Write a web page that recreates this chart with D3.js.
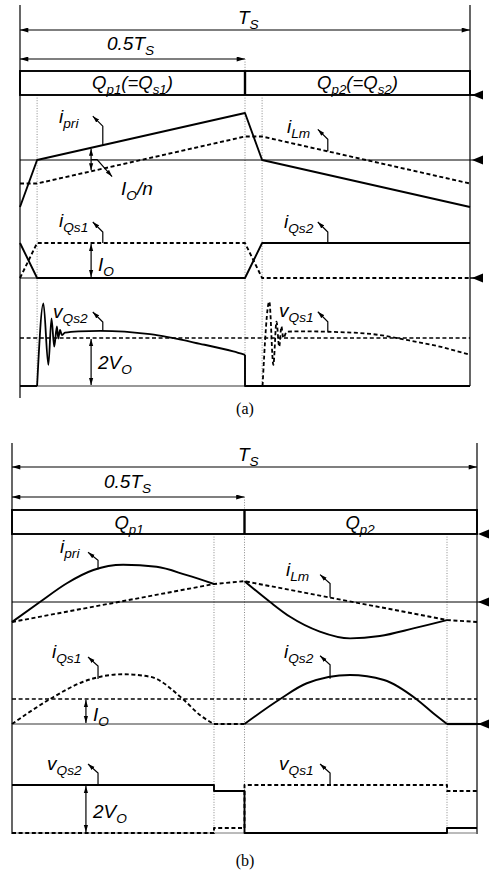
<!DOCTYPE html>
<html>
<head>
<meta charset="utf-8">
<script src="https://cdn.jsdelivr.net/npm/d3@7"></script>
<style>
  body { margin: 0; background: #fff; }
  svg { display: block; }
</style>
</head>
<body>
<script>
// Time is normalised to one switching period Ts (0 .. 1).

// ---------- (a) ----------
const aGuides = [0.038, 0.5, 0.538];                 // dotted guide instants
const aSwitches = [["Q", "p1", "(=Q", "s1", ")"], ["Q", "p2", "(=Q", "s2", ")"]];
const aIpri = [[0, -1], [0.038, 0], [0.5, 1], [0.538, 0], [1, -1]];
const aILm  = [[0, -0.5], [0.038, -0.5], [0.5, 0.5], [0.538, 0.5], [1, -0.5]];
const aIQs1 = [[0, 0], [0.038, 1], [0.5, 1], [0.538, 0], [1, 0]];
const aIQs2 = [[0, 1], [0.038, 0], [0.5, 0], [0.538, 1], [1, 1]];
const aVQs2Ring = [[0.038, 0], [0.052, 1.72], [0.063, 0.44], [0.070, 1.41], [0.076, 0.82],
  [0.082, 1.24], [0.085, 0.99], [0.089, 1.17], [0.093, 1.06], [0.100, 1.11], [0.130, 1.14],
  [0.178, 1.15], [0.289, 1.08], [0.400, 0.88], [0.474, 0.72], [0.5, 0.65]];
const aVQs1Ring = [[0.539, 0], [0.554, 1.76], [0.563, 0.44], [0.570, 1.34], [0.576, 0.82],
  [0.581, 1.24], [0.585, 1.00], [0.593, 1.13], [0.630, 1.14], [0.685, 1.13], [0.784, 1.08],
  [0.859, 0.96], [0.933, 0.82], [1, 0.65]];

// ---------- (b) ----------
const bGuides = [0.4344, 0.5, 0.9355];
const bSwitches = [["Q", "p1"], ["Q", "p2"]];
const bIpri1 = [[0, -0.5], [0.060, 0], [0.118, 0.47], [0.175, 0.80], [0.239, 0.93],
  [0.311, 0.88], [0.376, 0.67], [0.4344, 0.45]];
const bIpri2 = [[0.5, 0.52], [0.555, 0], [0.598, -0.37], [0.662, -0.74], [0.727, -0.91],
  [0.791, -0.85], [0.863, -0.66], [0.9355, -0.45]];
const bILm  = [[0, -0.5], [0.4344, 0.45], [0.5, 0.52], [0.9355, -0.45], [1, -0.5]];
const bIQs1 = [[0, 0], [0.082, 1.0], [0.153, 1.69], [0.239, 1.99], [0.297, 1.89],
  [0.368, 0.99], [0.404, 0.36], [0.4344, 0]];
const bIQs1Idle = [[0.4344, 0], [0.5, 0]];
const bIQs2 = [[0.5, 0], [0.576, 0.99], [0.634, 1.63], [0.727, 1.96], [0.800, 1.76],
  [0.870, 0.99], [0.906, 0.43], [0.9355, 0]];
const bIQs2Idle = [[0.9355, 0], [1, 0]];
const bVQs2 = [[0, 1], [0.4344, 1], [0.4344, 0.875], [0.5, 0.875], [0.5, 0], [0.9355, 0],
  [0.9355, 0.104], [1, 0.104]];
const bVQs1 = [[0, 0], [0.4344, 0], [0.4344, 0.104], [0.5, 0.104], [0.5, 1], [0.9355, 1],
  [0.9355, 0.875], [1, 0.875]];

// ---------- drawing ----------
const W = 489, H = 875;
const FONT = "'Liberation Sans', Arial, Helvetica, sans-serif";
const SERIF = "'Liberation Serif', 'Times New Roman', serif";
const svg = d3.select("body").append("svg").attr("width", W).attr("height", H);
const defs = svg.append("defs");

function marker(id, w, h) {
  defs.append("marker").attr("id", id)
    .attr("viewBox", "0 0 10 6").attr("refX", 10).attr("refY", 3)
    .attr("markerWidth", w).attr("markerHeight", h)
    .attr("markerUnits", "userSpaceOnUse").attr("orient", "auto-start-reverse")
    .append("path").attr("d", "M0,0L10,3L0,6Z").attr("fill", "#000");
}
marker("headLong", 9, 5);
marker("headShort", 7, 5);
marker("headCall", 7, 5);

function valueAt(series, t) {
  for (let i = 1; i < series.length; i++) {
    const [t0, v0] = series[i - 1], [t1, v1] = series[i];
    if (t >= t0 && t <= t1 && t1 > t0) return v0 + (v1 - v0) * (t - t0) / (t1 - t0);
  }
  return series[series.length - 1][1];
}

function seg(g, x1, y1, x2, y2, w = 1, color = "#000", dash = null) {
  const l = g.append("line").attr("x1", x1).attr("y1", y1).attr("x2", x2).attr("y2", y2)
    .attr("stroke", color).attr("stroke-width", w);
  if (dash) l.attr("stroke-dasharray", dash);
  return l;
}

function wave(g, data, x, y, opt = {}) {
  const gen = d3.line().x(d => x(d[0])).y(d => y(d[1]))
    .curve(opt.smooth ? d3.curveMonotoneX : d3.curveLinear);
  const p = g.append("path").datum(data).attr("d", gen).attr("fill", "none")
    .attr("stroke", "#000").attr("stroke-width", opt.width || 1.9)
    .attr("stroke-linejoin", "round");
  if (opt.dash) p.attr("stroke-dasharray", "4,2.6");
  return p;
}

function label(g, x, y, parts, anchor = "start", size = 19) {
  const t = g.append("text").attr("x", x).attr("y", y)
    .attr("font-family", FONT).attr("font-style", "italic")
    .attr("font-size", size).attr("text-anchor", anchor);
  let inSub = false;
  parts.forEach((s, i) => {
    const isSub = i % 2 === 1;
    const ts = t.append("tspan").text(s);
    if (isSub) { ts.attr("font-size", size * 0.72); if (!inSub) ts.attr("dy", 5); }
    else if (inSub) ts.attr("dy", -5);
    inSub = isSub;
  });
  return t;
}

function callout(g, x, yFrom, stub, dx = 10, dy = 10) {
  g.append("path")
    .attr("d", `M${x},${yFrom}V${yFrom - stub}L${x - dx},${yFrom - stub - dy}`)
    .attr("fill", "none").attr("stroke", "#000").attr("stroke-width", 1.2)
    .attr("marker-end", "url(#headCall)");
}

function dblArrowV(g, x, y1, y2) {
  seg(g, x, y1, x, y2, 1.2).attr("marker-start", "url(#headShort)").attr("marker-end", "url(#headShort)");
}

function dblArrowH(g, x1, x2, y) {
  seg(g, x1, y, x2, y, 1.2).attr("marker-start", "url(#headLong)").attr("marker-end", "url(#headLong)");
}

function sideMark(g, xTip, y) {
  g.append("path").attr("d", `M${xTip},${y}L${xTip + 11},${y - 4.5}L${xTip + 11},${y + 4.5}Z`).attr("fill", "#000");
}

function guide(g, x, y1, y2) {
  seg(g, x, y1, x, y2, 1, "#8a8a8a", "1,1.6");
}

// ================= (a) =================
(function () {
  const g = svg.append("g");
  const x0 = 20, x1 = 470;
  const x = d3.scaleLinear().domain([0, 1]).range([x0, x1]);
  const yI = d3.scaleLinear().domain([0, 1]).range([160, 113]);
  const yQ = d3.scaleLinear().domain([0, 1]).range([278, 243]);
  const yV = d3.scaleLinear().domain([0, 1]).range([386, 338]);
  const boxT = 71, boxB = 95;

  // frame
  seg(g, x0, 5, x0, 398, 1.2);
  seg(g, x1, 5, x1, 386, 1.2);
  dblArrowH(g, x0, x1, 30);
  dblArrowH(g, x0, x(0.5), 59);
  label(g, 238, 24, ["T", "S"]);
  label(g, 107, 50, ["0.5T", "S"]);

  // guides
  guide(g, x(0.5), 59, boxT);
  aGuides.forEach(t => guide(g, x(t), boxB, 386));

  // switch box
  g.append("rect").attr("x", x0).attr("y", boxT).attr("width", x1 - x0).attr("height", boxB - boxT)
    .attr("fill", "none").attr("stroke", "#000").attr("stroke-width", 1.9);
  seg(g, x(0.5), boxT, x(0.5), boxB, 2.4);
  label(g, x(0.25), 89, aSwitches[0], "middle", 18.5);
  label(g, x(0.75), 89, aSwitches[1], "middle", 18.5);
  seg(g, x1, boxB, x1 + 6, boxB, 1.9);
  sideMark(g, x1 + 2, boxB);

  // currents
  seg(g, x0, yI(0), x1 + 6, yI(0), 1);
  sideMark(g, x1 + 2, yI(0));
  wave(g, aILm, x, yI, { dash: true });
  wave(g, aIpri, x, yI);
  const tA = 0.158;
  dblArrowV(g, x(tA), yI(valueAt(aIpri, tA)) + 1, yI(valueAt(aILm, tA)) - 1);
  const ym = (yI(valueAt(aIpri, tA)) + yI(valueAt(aILm, tA))) / 2;
  g.append("path").attr("d", `M${x(tA)},${ym}H${x(tA) + 6}L${x(tA) + 21},${ym + 17}`)
    .attr("fill", "none").attr("stroke", "#000").attr("stroke-width", 1.2)
    .attr("marker-end", "url(#headCall)");
  label(g, 121, 195, ["I", "O", "/n"]);
  const tC1 = 0.184, tC2 = 0.684;
  callout(g, x(tC1), yI(valueAt(aIpri, tC1)), 19);
  label(g, 59, 123, ["i", "pri"]);
  callout(g, x(tC2), yI(valueAt(aILm, tC2)), 12);
  label(g, 287, 133, ["i", "Lm"]);

  // switch currents
  seg(g, x0, yQ(0), x(0.5), yQ(0), 1);
  wave(g, aIQs1, x, yQ, { dash: true });
  wave(g, aIQs2, x, yQ);
  seg(g, x1, yQ(0), x1 + 6, yQ(0), 1.5);
  sideMark(g, x1 + 2, yQ(0));
  dblArrowV(g, x(tA), yQ(1) + 1, yQ(0) - 1);
  label(g, 98, 271, ["I", "O"]);
  callout(g, x(tC1), yQ(1), 11);
  label(g, 59, 227, ["i", "Qs1"]);
  callout(g, x(tC2), yQ(1), 11);
  label(g, 284, 228, ["i", "Qs2"]);

  // switch voltages
  seg(g, x0, yV(0), x1, yV(0), 1.2, "#333");
  seg(g, x0, yV(1), x1, yV(1), 1.7, "#000", "4,2.6");
  wave(g, [[0, 0], [0.038, 0]], x, yV);
  wave(g, aVQs2Ring, x, yV, { smooth: true, width: 1.8 });
  wave(g, [[0.5, 0.65], [0.5, 0], [1, 0]], x, yV);
  wave(g, aVQs1Ring, x, yV, { smooth: true, dash: true, width: 1.8 });
  dblArrowV(g, x(tA), yV(1) + 1, yV(0) - 1);
  label(g, 98, 369, ["2V", "O"]);
  callout(g, x(tC1), yV(valueAt(aVQs2Ring, tC1)) , 9);
  label(g, 53, 318, ["v", "Qs2"]);
  callout(g, x(tC2), yV(valueAt(aVQs1Ring, tC2)), 10);
  label(g, 279, 317, ["v", "Qs1"]);

  g.append("text").attr("x", 245).attr("y", 414).attr("text-anchor", "middle")
    .attr("font-family", SERIF).attr("font-size", 16).text("(a)");
})();

// ================= (b) =================
(function () {
  const g = svg.append("g");
  const x0 = 12, x1 = 477;
  const x = d3.scaleLinear().domain([0, 1]).range([x0, x1]);
  const yI = d3.scaleLinear().domain([0, 1]).range([602, 562]);
  const yQ = d3.scaleLinear().domain([0, 1]).range([724, 699]);
  const yV = d3.scaleLinear().domain([0, 1]).range([833, 785]);
  const boxT = 510, boxB = 534;

  seg(g, x0, 443, x0, 834, 1.2);
  seg(g, x1, 443, x1, 834, 1.2);
  dblArrowH(g, x0, x1, 467);
  dblArrowH(g, x0, x(0.5), 497);
  label(g, 238, 461, ["T", "S"]);
  label(g, 104, 488, ["0.5T", "S"]);

  guide(g, x(0.5), 497, boxT);
  bGuides.forEach(t => guide(g, x(t), boxB, 833));

  g.append("rect").attr("x", x0).attr("y", boxT).attr("width", x1 - x0).attr("height", boxB - boxT)
    .attr("fill", "none").attr("stroke", "#000").attr("stroke-width", 1.9);
  seg(g, x(0.5), boxT, x(0.5), boxB, 2.4);
  label(g, 129, 529, bSwitches[0], "middle", 18.5);
  label(g, 360, 529, bSwitches[1], "middle", 18.5);
  sideMark(g, x1 + 1, boxB);

  // currents
  seg(g, x0, yI(0), x1 + 6, yI(0), 1);
  sideMark(g, x1 + 1, yI(0));
  wave(g, bILm, x, yI, { dash: true });
  wave(g, bIpri1, x, yI, { smooth: true });
  wave(g, bIpri2, x, yI, { smooth: true });
  const tC1 = 0.185, tC2 = 0.684, tA = 0.159;
  callout(g, x(tC1), yI(valueAt(bIpri1, tC1)), 9, 10, 8);
  label(g, 60, 553, ["i", "pri"]);
  callout(g, x(tC2), yI(valueAt(bILm, tC2)), 14, 10, 9);
  label(g, 286, 576, ["i", "Lm"]);

  // switch currents
  seg(g, x0, yQ(0), x(0.9355), yQ(0), 1.4, "#777");
  seg(g, x0, yQ(1), x1, yQ(1), 1.6, "#000", "4,2.6");
  wave(g, bIQs1, x, yQ, { smooth: true, dash: true });
  wave(g, bIQs1Idle, x, yQ, { dash: true });
  wave(g, bIQs2, x, yQ, { smooth: true });
  wave(g, bIQs2Idle, x, yQ, { width: 2.2 });
  seg(g, x1, yQ(0), x1 + 6, yQ(0), 2);
  sideMark(g, x1 + 1, yQ(0));
  dblArrowV(g, x(tA), yQ(1) + 1, yQ(0) - 1);
  label(g, 93, 721, ["I", "O"]);
  callout(g, x(tC1), yQ(valueAt(bIQs1, tC1)), 13, 10, 9);
  label(g, 52, 658, ["i", "Qs1"]);
  callout(g, x(tC2), yQ(valueAt(bIQs2, tC2)), 14, 10, 9);
  label(g, 284, 658, ["i", "Qs2"]);

  // switch voltages
  seg(g, x0, yV(0), x1, yV(0), 1, "#777");
  wave(g, bVQs1, x, yV, { dash: true });
  wave(g, bVQs2, x, yV);
  dblArrowV(g, x(tA), yV(1) + 1, yV(0) - 1);
  label(g, 93, 818, ["2V", "O"]);
  callout(g, x(tC1), yV(1), 12, 10, 9);
  label(g, 47, 770, ["v", "Qs2"]);
  callout(g, x(tC2), yV(1), 12, 10, 9);
  label(g, 279, 770, ["v", "Qs1"]);

  g.append("text").attr("x", 245).attr("y", 866).attr("text-anchor", "middle")
    .attr("font-family", SERIF).attr("font-size", 16).text("(b)");
})();
</script>
</body>
</html>
